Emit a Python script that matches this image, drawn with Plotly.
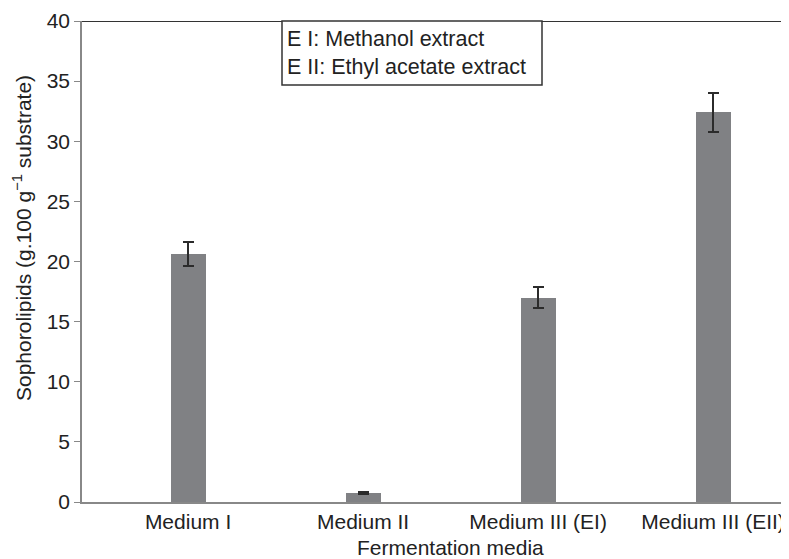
import plotly.graph_objects as go

categories = ["Medium I", "Medium II", "Medium III (EI)", "Medium III (EII)"]
values = [20.6, 0.75, 17.0, 32.4]
errors = [1.0, 0.05, 0.9, 1.65]
y_ticks = [0, 5, 10, 15, 20, 25, 30, 35, 40]

OFF = 8  # page body margin in the browser
W, H = 789 - OFF, 559 - OFF
L, T = 82 - OFF, 21 - OFF
R = 0
B = H - (502 - OFF)
PW = W - L - R
PH = H - T - B
FONT = "Liberation Sans, Arial, sans-serif"


def px_x(p):
    return (p - OFF - L) / PW


def px_y(p):
    return 1 - (p - OFF - T) / PH


fig = go.Figure()
fig.add_trace(go.Bar(
    x=list(range(len(categories))), y=values, width=0.2,
    marker=dict(color="#808184", line=dict(width=0)),
    error_y=dict(type="data", array=errors, visible=True,
                 color="#2b2b2b", thickness=2, width=5.5),
    showlegend=False,
))

fig.update_layout(
    width=W, height=H,
    margin=dict(l=L, r=R, t=T, b=B, autoexpand=False),
    paper_bgcolor="white", plot_bgcolor="white",
    font=dict(family=FONT, size=21, color="#222"),
    bargap=0,
    xaxis=dict(
        range=[-0.606, 3.434], tickmode="array", automargin=False,
        tickvals=list(range(len(categories))), ticktext=categories,
        showgrid=False, zeroline=False, showline=True, linecolor="#888",
        linewidth=1.5, ticks="", tickfont=dict(size=21, color="#222"),
    ),
    yaxis=dict(
        range=[0, 40], tickmode="array", tickvals=y_ticks, automargin=False,
        showgrid=False, zeroline=False, showline=True, linecolor="#888",
        linewidth=1.5, ticks="outside", ticklen=6, tickcolor="#888",
        tickfont=dict(size=21, color="#222"),
    ),
)

# top frame line
fig.add_shape(type="line", xref="paper", yref="y", x0=0, x1=1, y0=40, y1=40,
              line=dict(color="#333", width=2))

# x-axis title
fig.add_annotation(
    text="Fermentation media", xref="paper", yref="paper",
    x=px_x(450), y=px_y(547), xanchor="center", yanchor="middle",
    showarrow=False, font=dict(size=21, color="#222"),
)

# y-axis title
fig.add_annotation(
    text="Sophorolipids (g.100 g<sup>−1</sup> substrate)",
    xref="paper", yref="paper", x=px_x(22), y=px_y(238),
    xanchor="center", yanchor="middle", textangle=-90, showarrow=False,
    font=dict(size=21, color="#222"),
)

# legend box
fig.add_shape(type="rect", xref="paper", yref="paper",
              x0=px_x(282), x1=px_x(542), y0=px_y(85), y1=1.0,
              line=dict(color="#333", width=1.5), fillcolor="white")
fig.add_annotation(
    text="E I: Methanol extract<br>E II: Ethyl acetate extract",
    xref="paper", yref="paper", x=px_x(285), y=px_y(53),
    xanchor="left", yanchor="middle",
    align="left", showarrow=False, font=dict(size=21.5, color="#222"),
)

fig.write_html("out.html")
